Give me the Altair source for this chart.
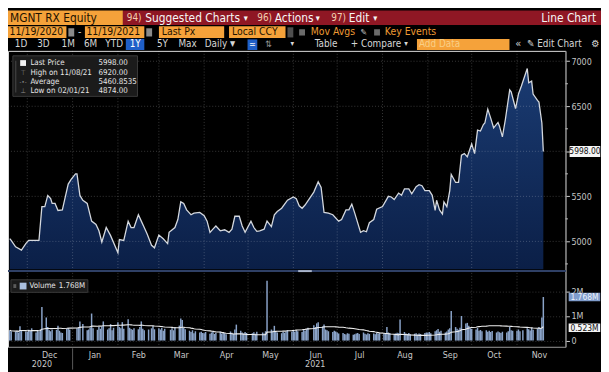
import altair as alt
import pandas as pd

# ---------------- data ----------------
PRICE_DATES = [
    "2020-11-19", "2020-11-20", "2020-11-23", "2020-11-27", "2020-11-30", "2020-12-02", "2020-12-09",
    "2020-12-11", "2020-12-13", "2020-12-15", "2020-12-17", "2020-12-18", "2020-12-20", "2020-12-22",
    "2020-12-25", "2020-12-27", "2020-12-29", "2020-12-31", "2021-01-03", "2021-01-04", "2021-01-06",
    "2021-01-08", "2021-01-11", "2021-01-14", "2021-01-17", "2021-01-19", "2021-01-21", "2021-01-24",
    "2021-01-27", "2021-02-01", "2021-02-02", "2021-02-05", "2021-02-08", "2021-02-10", "2021-02-12",
    "2021-02-15", "2021-02-17", "2021-02-19", "2021-02-21", "2021-02-24", "2021-02-26", "2021-03-01",
    "2021-03-04", "2021-03-07", "2021-03-08", "2021-03-12", "2021-03-14", "2021-03-16", "2021-03-18",
    "2021-03-20", "2021-03-22", "2021-03-23", "2021-03-25", "2021-03-29", "2021-04-01", "2021-04-03",
    "2021-04-05", "2021-04-07", "2021-04-09", "2021-04-12", "2021-04-15", "2021-04-18", "2021-04-20",
    "2021-04-22", "2021-04-25", "2021-04-27", "2021-04-29", "2021-05-03", "2021-05-05", "2021-05-07",
    "2021-05-09", "2021-05-12", "2021-05-14", "2021-05-17", "2021-05-19", "2021-05-21", "2021-05-24",
    "2021-05-28", "2021-06-01", "2021-06-03", "2021-06-05", "2021-06-07", "2021-06-09", "2021-06-12",
    "2021-06-15", "2021-06-18", "2021-06-20", "2021-06-22", "2021-06-25", "2021-06-28", "2021-07-02",
    "2021-07-04", "2021-07-07", "2021-07-09", "2021-07-11", "2021-07-13", "2021-07-17", "2021-07-19",
    "2021-07-21", "2021-07-23", "2021-07-26", "2021-07-28", "2021-08-01", "2021-08-05", "2021-08-07",
    "2021-08-09", "2021-08-12", "2021-08-14", "2021-08-16", "2021-08-19", "2021-08-21", "2021-08-24",
    "2021-08-26", "2021-08-28", "2021-08-30", "2021-09-02", "2021-09-04", "2021-09-06", "2021-09-07",
    "2021-09-09", "2021-09-11", "2021-09-12", "2021-09-14", "2021-09-16", "2021-09-17", "2021-09-20",
    "2021-09-22", "2021-09-24", "2021-09-26", "2021-09-28", "2021-10-01", "2021-10-03", "2021-10-05",
    "2021-10-07", "2021-10-09", "2021-10-10", "2021-10-12", "2021-10-14", "2021-10-16", "2021-10-19",
    "2021-10-20", "2021-10-22", "2021-10-24", "2021-10-27", "2021-10-28", "2021-10-31", "2021-11-02",
    "2021-11-04", "2021-11-08", "2021-11-09", "2021-11-11", "2021-11-12", "2021-11-15", "2021-11-16",
    "2021-11-18", "2021-11-19",
]
PRICE_VALUES = [
    5030, 5011, 4939, 4903, 4975, 5011, 5011,
    5386, 5386, 5510, 5475, 5421, 5421, 5343,
    5350, 5493, 5636, 5689, 5750, 5750, 5510,
    5457, 5421, 5225, 5189, 5118, 4993, 5154,
    5064, 4874, 5021, 5011, 5225, 5154, 5154,
    5296, 5225, 5154, 5082, 4957, 4929, 5071,
    5029, 4975, 5100, 5154, 5243, 5439, 5421,
    5350, 5314, 5296, 5314, 5321, 5286, 5225,
    5100, 5136, 5171, 5118, 5129, 5100, 5136,
    5279, 5279, 5171, 5100, 5225, 5154, 5111,
    5118, 5136, 5225, 5164, 5296, 5332, 5368,
    5457, 5493, 5475, 5395, 5368, 5404, 5475,
    5547, 5661, 5600, 5321, 5314, 5296, 5225,
    5243, 5350, 5350, 5414, 5314, 5100, 5118,
    5107, 5207, 5243, 5357, 5386, 5500, 5493,
    5464, 5536, 5511, 5582, 5582, 5529, 5607,
    5629, 5618, 5564, 5564, 5511, 5343, 5457,
    5350, 5303, 5439, 5386, 5564, 5743, 5654,
    5654, 5957, 5975, 5939, 6082, 5975, 6236,
    6225, 6297, 6314, 6468, 6368, 6261, 6321,
    6279, 6161, 6350, 6683, 6661, 6475, 6636,
    6725, 6920, 6761, 6779, 6636, 6565, 6547,
    6314, 5998,
]

HOLIDAYS = ["2020-12-31", "2021-01-01", "2021-01-07", "2021-02-23", "2021-03-08",
            "2021-05-03", "2021-05-10", "2021-06-14", "2021-11-04"]

# daily volume, millions of shares, one value per trading day
VOL_NOV20 = [0.42, 0.38, 0.36, 0.40, 0.33, 0.58, 0.41, 0.37]
VOL_DEC20 = [0.36, 0.44, 0.39, 0.50, 0.33, 0.41, 0.37, 0.46, 1.37, 0.94, 0.55, 0.42, 0.38, 0.45,
             0.44, 0.60, 0.40, 0.33, 0.31, 0.48, 0.52, 0.45]
VOL_JAN21 = [0.50, 0.55, 0.78, 0.67, 0.42, 0.45, 0.52, 1.10, 0.50, 0.44, 0.55, 0.48, 0.58, 0.78,
             0.45, 0.50, 0.67, 0.42, 0.52]
VOL_FEB21 = [0.75, 0.55, 0.50, 0.75, 0.48, 0.87, 0.52, 0.47, 0.44, 0.50, 0.46, 0.55, 0.78, 0.48,
             0.42, 0.45, 0.50, 0.58, 0.46]
VOL_MAR21 = [0.50, 0.45, 0.52, 0.40, 0.48, 0.44, 0.50, 0.42, 0.55, 0.61, 0.90, 0.84, 0.52, 0.46,
             0.40, 0.35, 0.42, 0.30, 0.38, 0.33, 0.36, 0.31]
VOL_APR21 = [0.30, 0.35, 0.28, 0.33, 0.38, 0.27, 0.31, 0.36, 0.29, 0.34, 0.30, 0.26, 0.37, 0.32,
             0.28, 0.45, 0.65, 0.40, 0.33, 0.29, 0.35, 0.31]
VOL_MAY21 = [0.30, 0.34, 0.28, 0.36, 0.33, 0.29, 0.38, 2.43, 0.45, 0.40, 0.60, 0.37, 0.33, 0.30,
             0.35, 0.32, 0.38, 0.42, 0.36]
VOL_JUN21 = [0.40, 0.36, 0.42, 0.38, 0.35, 0.44, 0.40, 0.47, 0.52, 0.62, 0.55, 0.70, 0.75, 0.58,
             0.65, 0.45, 0.42, 0.38, 0.35, 0.40, 0.37]
VOL_JUL21 = [0.33, 0.29, 0.31, 0.27, 0.25, 0.30, 0.28, 0.24, 0.26, 0.29, 0.31, 0.27, 0.33, 0.28,
             0.25, 0.30, 0.27, 0.29, 0.26, 0.32, 0.28, 0.30]
VOL_AUG21 = [0.30, 0.28, 0.55, 0.33, 0.31, 0.27, 0.29, 0.32, 0.30, 0.86, 0.35, 0.29, 0.27, 0.31,
             0.26, 0.28, 0.30, 0.25, 0.29, 0.27, 0.31, 0.33]
VOL_SEP21 = [0.32, 0.35, 0.30, 0.38, 0.42, 0.47, 0.36, 0.40, 0.33, 0.37, 0.45, 0.50, 1.20, 0.55,
             0.48, 0.44, 0.52, 1.00, 0.70, 0.72, 0.60, 0.50]
VOL_OCT21 = [0.48, 0.45, 0.52, 0.40, 0.43, 0.38, 0.42, 0.36, 0.40, 0.35, 0.39, 0.33, 0.37, 0.34,
             0.31, 0.36, 0.33, 0.38, 0.55, 0.42, 0.40]
VOL_NOV21 = [0.40, 0.45, 0.38, 0.42, 0.50, 0.46, 0.41, 0.52, 0.44, 0.48, 0.55, 0.50, 0.94, 1.768]
VOLUME = (VOL_NOV20 + VOL_DEC20 + VOL_JAN21 + VOL_FEB21 + VOL_MAR21 + VOL_APR21 + VOL_MAY21
          + VOL_JUN21 + VOL_JUL21 + VOL_AUG21 + VOL_SEP21 + VOL_OCT21 + VOL_NOV21)

MONTH_STARTS = ["2020-12-01", "2021-01-01", "2021-02-01", "2021-03-01", "2021-04-01", "2021-05-01",
                "2021-06-01", "2021-07-01", "2021-08-01", "2021-09-01", "2021-10-01", "2021-11-01"]
MONTH_LABEL_DATES = ["2020-12-16", "2021-01-16", "2021-02-15", "2021-03-16", "2021-04-16", "2021-05-16",
                     "2021-06-16", "2021-07-16", "2021-08-16", "2021-09-16", "2021-10-16", "2021-11-16"]
YEAR_LABELS = ["2020", "2021"]
YEAR_LABEL_DATES = ["2020-12-11", "2021-06-16"]
YEAR_BREAK = ["2021-01-01"]
PRICE_TICKS = [5000, 5500, 6000, 6500, 7000]
PRICE_MINOR_TICKS = [4750, 5250, 5750, 6250, 6750]
VOLUME_TICKS = [0, 1, 2]
LAST_PRICE = 5998.00
HIGH_PRICE, HIGH_DATE = 6920.00, "11/08/21"
AVERAGE_PRICE = 5460.8535
LOW_PRICE, LOW_DATE = 4874.00, "02/01/21"
LAST_VOLUME = 1.768
VOLUME_SMA_LAST = 0.523

# ---------------- layout ----------------
SX = 601 / 609
SY = 364 / 372
PAD_TOP = 41
W = 565
H = 300


def X(r):
    return r * SX


def Y(r):
    return r * SY - PAD_TOP


def ms(s):
    return int(pd.Timestamp(s, tz="UTC").value // 10**6)


FONT = "DejaVu Sans Condensed, Roboto, sans-serif"
ORANGE = "#f5a23a"
RED = "#8f1724"
DARK = "#1e1200"
LIGHT = "#d6d6d6"
BLUE = "#1f5fc8"

price_df = pd.DataFrame({"date": PRICE_DATES, "price": PRICE_VALUES})
days = pd.bdate_range("2020-11-19", "2021-11-19")
days = days[~days.isin(pd.to_datetime(HOLIDAYS))]
n = min(len(days), len(VOLUME))
vol_df = pd.DataFrame({"date": days[:n].strftime("%Y-%m-%d"), "vol": VOLUME[:n]})

XSCALE = alt.Scale(domain=[ms("2020-11-21 04:30"), ms("2021-11-30 18:40")], nice=False)
PY = alt.Scale(domain=[4692, 7115], range=[221.2, 0], nice=False, zero=False)
VY = alt.Scale(domain=[-0.235, 2.784], range=[299.5, 224.2], nice=False, zero=False)

x_axis = alt.Axis(values=[ms(d) for d in MONTH_LABEL_DATES], format="%b", title=None, ticks=False,
                  grid=False, labelColor="#c8c8c8", labelFontSize=9, labelFont=FONT,
                  labelPadding=4, domainColor="#6a6a6a", labelOverlap=False)
xenc = alt.X("date:T", scale=XSCALE, axis=x_axis)

# ---------------- price panel ----------------
# the 6000 tick label sits under the last-price tag, as in the reference
price_axis = alt.Axis(orient="right", values=PRICE_TICKS, format="d", title=None, grid=False,
                      labelExpr=f"abs(datum.value - {LAST_PRICE}) < 100 ? '' : datum.label",
                      labelColor="#c4c4c4", labelFontSize=9, labelFont=FONT, labelPadding=1.5,
                      tickColor="#d0d0d0", tickSize=4, domainColor="#707070", zindex=0)
pyenc = alt.Y("price:Q", scale=PY, axis=price_axis)
grad = alt.Gradient(gradient="linear",
                    stops=[alt.GradientStop(color="#1a3b72", offset=0),
                           alt.GradientStop(color="#0b1f47", offset=1)],
                    x1=1, x2=1, y1=0, y2=1)
area = alt.Chart(price_df).mark_area(color=grad, clip=True).encode(
    x=xenc, y=pyenc, y2=alt.datum(4692))
pgrid = alt.Chart(pd.DataFrame({"price": PRICE_TICKS})).mark_rule(
    color="#ffffff", opacity=0.22, strokeDash=[1, 2]).encode(y=pyenc)
pminor = alt.Chart(pd.DataFrame({"price": PRICE_MINOR_TICKS})).mark_rule(
    color="#bdbdbd", strokeWidth=1).encode(y=pyenc, x=alt.value(W), x2=alt.value(W + 2.5))
pline = alt.Chart(price_df).mark_line(color="#d4d8de", strokeWidth=1.3, clip=True).encode(
    x=xenc, y=pyenc)
ONE = pd.DataFrame({"k": [0]})
pbox = alt.Chart(ONE).mark_point(shape="M-1,-0.36L1,-0.36L1,0.36L-1,0.36Z", filled=True, size=961,
                                 color="#f4f4f4", opacity=1, strokeWidth=0).encode(
    x=alt.value(X(592.5)), y=alt.datum(LAST_PRICE))
ptxt = alt.Chart(ONE).mark_text(text=f"{LAST_PRICE:.2f}", fontSize=8.5, font=FONT, color="#111111",
                                align="center", baseline="middle").encode(
    x=alt.value(X(592.5)), y=alt.datum(LAST_PRICE))
price_layer = alt.layer(area, pgrid, pminor, pline, pbox, ptxt)

# ---------------- volume panel ----------------
vol_axis = alt.Axis(orient="right", values=VOLUME_TICKS, title=None,
                    labelExpr="datum.value == 0 ? '0' : datum.value + 'M'",
                    grid=True, gridColor="#ffffff", gridOpacity=0.2, gridDash=[1, 2],
                    labelColor="#c4c4c4", labelFontSize=9, labelFont=FONT, labelPadding=1.5,
                    tickColor="#d0d0d0", tickSize=4, domainColor="#707070", zindex=0)
bars = alt.Chart(vol_df).mark_bar(size=1.5, color="#8aa3c8", clip=True).encode(
    x=xenc, y=alt.Y("vol:Q", scale=VY, axis=vol_axis), y2=alt.datum(0))
ma = alt.Chart(vol_df).transform_window(
    vol="mean(vol)", frame=[-19, 0], sort=[alt.SortField("date")]
).mark_line(color="#eeeeee", strokeWidth=1.1, clip=True).encode(
    x=xenc, y=alt.Y("vol:Q", scale=VY, axis=vol_axis))
vbox1 = alt.Chart(ONE).mark_point(shape="M-1,-0.27L1,-0.27L1,0.27L-1,0.27Z", filled=True, size=1024,
                                  color="#7f9ccb", opacity=1, strokeWidth=0).encode(
    x=alt.value(X(592)), y=alt.datum(LAST_VOLUME))
vtxt1 = alt.Chart(ONE).mark_text(text=f"{LAST_VOLUME:.3f}M", fontSize=8.5, font=FONT, color="#eef2fa",
                                 align="center", baseline="middle").encode(
    x=alt.value(X(592)), y=alt.datum(LAST_VOLUME))
vbox2 = alt.Chart(ONE).mark_point(shape="M-1,-0.27L1,-0.27L1,0.27L-1,0.27Z", filled=True, size=1024,
                                  color="#f4f4f4", opacity=1, strokeWidth=0).encode(
    x=alt.value(X(592)), y=alt.datum(VOLUME_SMA_LAST))
vtxt2 = alt.Chart(ONE).mark_text(text=f"{VOLUME_SMA_LAST:.3f}M", fontSize=8.5, font=FONT, color="#111111",
                                 align="center", baseline="middle").encode(
    x=alt.value(X(592)), y=alt.datum(VOLUME_SMA_LAST))
volume_layer = alt.layer(bars, ma, vbox1, vtxt1, vbox2, vtxt2)

# ---------------- shared guides ----------------
vgrid = alt.Chart(pd.DataFrame({"date": MONTH_STARTS})).mark_rule(
    color="#ffffff", opacity=0.22, strokeDash=[1, 2]).encode(
    x=xenc, y=alt.value(0), y2=alt.value(H))
ybreak = alt.Chart(pd.DataFrame({"date": YEAR_BREAK})).mark_rule(color="#5a5a5a").encode(
    x=xenc, y=alt.value(Y(350)), y2=alt.value(Y(372)))
ylabels = alt.Chart(pd.DataFrame({"date": YEAR_LABEL_DATES, "t": YEAR_LABELS})).mark_text(
    fontSize=9, font=FONT, color="#c8c8c8", align="center", baseline="middle").encode(
    x=xenc, y=alt.value(Y(366.5)), text="t:N")


def txt(s, xr, yr, size, color=LIGHT, align="left", weight="normal"):
    return alt.Chart(ONE).mark_text(text=s, fontSize=size, font=FONT, color=color, align=align,
                                    baseline="middle", fontWeight=weight).encode(
        x=alt.value(X(xr)), y=alt.value(Y(yr)))


def box(x1, y1, x2, y2, fill, stroke=None):
    kw = {"stroke": stroke, "strokeWidth": 1} if stroke else {}
    return alt.Chart(ONE).mark_rect(fill=fill, **kw).encode(
        x=alt.value(X(x1)), x2=alt.value(X(x2)), y=alt.value(Y(y1)), y2=alt.value(Y(y2)))


def hline(x1, x2, yr, color, width):
    return alt.Chart(ONE).mark_rule(color=color, strokeWidth=width).encode(
        x=alt.value(X(x1)), x2=alt.value(X(x2)), y=alt.value(Y(yr)))


H1, H2, H3, LG = 12, 10.5, 10, 8
decor = [
    hline(0, 573, 270, "#2f4066", 2),
    hline(298, 312, 270, "#a9b4ca", 2),
    # header row 1
    box(0, 0, 118, 15, ORANGE),
    box(118, 0, 609, 15, RED),
    txt("MGNT RX Equity", 2, 7.8, H1, DARK),
    txt("94)", 122, 7.8, 10, "#f2cfb0"),
    txt("Suggested Charts", 141, 7.8, H1, "#f6f6f6"),
    txt("▾", 242, 8.3, 9, "#f6f6f6"),
    txt("96)", 256, 7.8, 10, "#f2cfb0"),
    txt("Actions", 274, 7.8, H1, "#f6f6f6"),
    txt("▾", 316, 8.3, 9, "#f6f6f6"),
    txt("97)", 332, 7.8, 10, "#f2cfb0"),
    txt("Edit", 350, 7.8, H1, "#f6f6f6"),
    txt("▾", 375, 8.3, 9, "#f6f6f6"),
    txt("Line Chart", 604, 7.8, H1, "#f6f6f6", align="right"),
    # header row 2
    box(0, 16.5, 60, 28.5, ORANGE),
    txt("11/19/2020", 1.5, 22.8, H2, DARK),
    box(62, 18.5, 68, 27, "#8a8a8a"),
    txt("-", 72, 22.5, H2, LIGHT),
    box(79, 16.5, 140, 28.5, ORANGE),
    txt("11/19/2021", 80.5, 22.8, H2, DARK),
    box(142, 18.5, 148, 27, "#8a8a8a"),
    box(155, 16.5, 222, 28.5, ORANGE),
    txt("Last Px", 158, 22.8, H2, DARK),
    box(227, 16.5, 285, 28.5, ORANGE),
    txt("Local CCY", 230, 22.8, H2, DARK),
    box(287, 17.5, 293, 28, "#4e4e4e"),
    box(299, 19.5, 305, 26, "#6b6b6b"),
    txt("Mov Avgs", 311, 22.8, H2, "#ee9a33"),
    txt("✎", 362, 22.8, 9, "#cfcfcf"),
    box(376, 19.5, 382, 26, "#6b6b6b"),
    txt("Key Events", 387, 22.8, H2, "#ee9a33"),
    # header row 3
    txt("1D", 7, 35.3, H3),
    txt("3D", 30, 35.3, H3),
    txt("1M", 55, 35.3, H3),
    txt("6M", 78, 35.3, H3),
    txt("YTD", 100, 35.3, H3),
    box(121, 29.5, 140, 41, BLUE),
    txt("1Y", 125, 35.3, H3, "#ffffff"),
    txt("5Y", 153, 35.3, H3),
    txt("Max", 175, 35.3, H3),
    txt("Daily", 202, 35.3, H3),
    txt("▼", 228, 35.3, 7.5, LIGHT),
    box(246, 30, 256, 41, BLUE),
    txt("≃", 251, 35.3, 9, "#ffffff", align="center"),
    txt("⇅", 264, 35.3, 9, "#9a9a9a"),
    txt("▾", 290, 35.3, 8, LIGHT),
    txt("Table", 315, 35.3, H3),
    txt("+ Compare", 352, 35.3, H3),
    txt("▾", 407, 35.3, 8, LIGHT),
    box(420, 29.5, 515, 41, ORANGE),
    txt("Add Data", 422, 35.3, H3, "#f9cf86"),
    txt("«", 521, 35, 11, LIGHT),
    txt("✎ Edit Chart", 533, 35.3, H3),
    txt("⚙", 603, 35.3, 10, LIGHT, align="center"),
    # price legend
    box(5, 47, 133, 89, "#1b1b1b", "#3a3a3a"),
    box(7.5, 52, 8.5, 85, "#4a4a4a"),
    box(12.5, 51.5, 18.5, 57.5, "#f0f0f0"),
    txt("Last Price", 23, 54.5, LG, "#e6e6e6"),
    txt(f"{LAST_PRICE:.2f}", 93, 54.5, LG, "#e6e6e6"),
    txt("⊤", 15.5, 64.5, 7, "#8a8a8a", align="center"),
    txt(f"High on {HIGH_DATE}", 23, 64.5, LG, "#e6e6e6"),
    txt(f"{HIGH_PRICE:.2f}", 93, 64.5, LG, "#e6e6e6"),
    txt("-•-", 15.5, 74, 6, "#8a8a8a", align="center"),
    txt("Average", 23, 74, LG, "#e6e6e6"),
    txt(f"{AVERAGE_PRICE:.4f}", 93, 74, LG, "#e6e6e6"),
    txt("⊥", 15.5, 83.5, 7, "#8a8a8a", align="center"),
    txt(f"Low on {LOW_DATE}", 23, 83.5, LG, "#e6e6e6"),
    txt(f"{LOW_PRICE:.2f}", 93, 83.5, LG, "#e6e6e6"),
    # volume legend
    box(3, 279, 82, 292, "#1b1b1b", "#3a3a3a"),
    box(5.5, 283.5, 8.5, 287.5, "#5a5a5a"),
    box(12, 282, 19, 289, "#a9bfdf"),
    txt("Volume", 22, 285.5, LG, "#e6e6e6"),
    txt(f"{LAST_VOLUME:.3f}M", 52, 285.5, LG, "#e6e6e6"),
]

chart = alt.layer(price_layer, vgrid, volume_layer, ybreak, ylabels, *decor).resolve_scale(
    y="independent"
).properties(
    width=W, height=H,
    padding={"left": 0, "top": PAD_TOP, "right": 601 - W, "bottom": 364 - PAD_TOP - H},
    autosize=alt.AutoSizeParams(type="none"),
    background="#000000",
).configure_view(stroke=None, fill="#000000").configure(font=FONT)

chart.save("out.html", embed_options={"renderer": "svg", "actions": False})
